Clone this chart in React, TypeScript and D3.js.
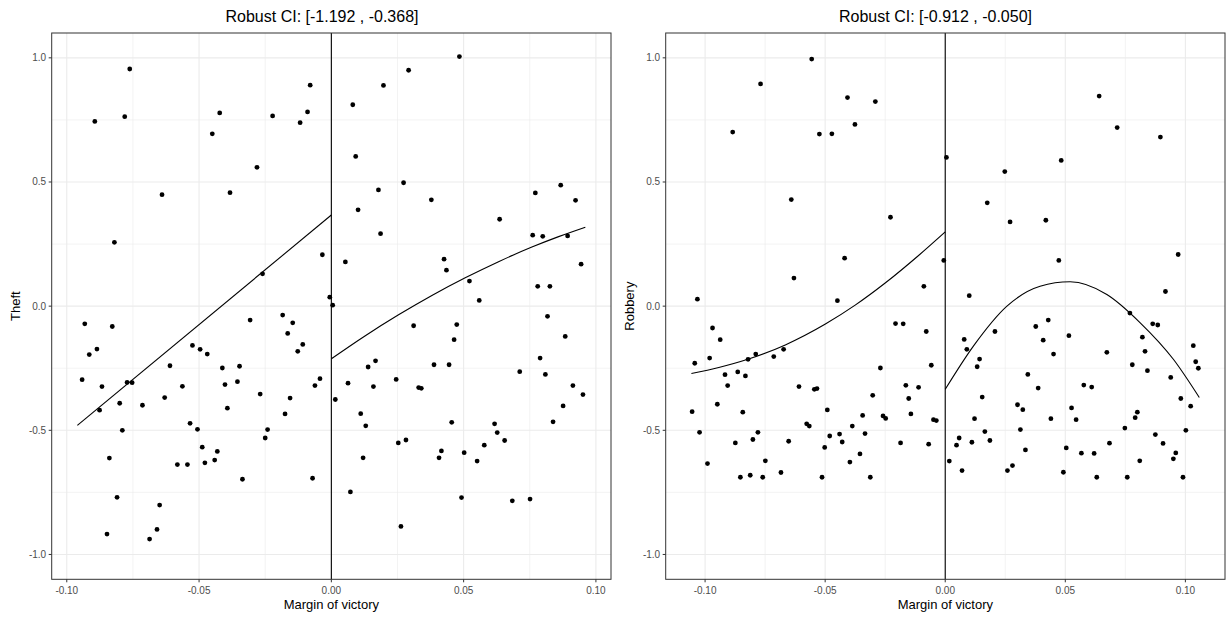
import React from "react";
import * as d3 from "d3";

// ---------- data ----------
const theftPoints: [number, number][] = [
  [-0.0894, 0.744], [-0.0762, 0.955], [-0.0781, 0.763], [-0.082, 0.257], [-0.064, 0.449],
  [-0.045, 0.694], [-0.0422, 0.778], [-0.0383, 0.457], [-0.0281, 0.559], [-0.026, 0.13],
  [-0.0222, 0.766], [-0.0118, 0.739], [-0.009, 0.782], [-0.008, 0.89], [-0.0034, 0.207],
  [-0.0006, 0.036],
  [0.0081, 0.811], [0.0197, 0.889], [0.0292, 0.95], [0.0484, 1.005], [0.0092, 0.603],
  [0.0178, 0.468], [0.0273, 0.497], [0.0378, 0.428], [0.0101, 0.388], [0.0186, 0.292],
  [0.0636, 0.35], [0.0771, 0.456], [0.0867, 0.487], [0.0923, 0.426], [0.0761, 0.286],
  [0.0799, 0.281], [0.0893, 0.283], [0.0944, 0.169], [0.0053, 0.178], [0.0426, 0.189],
  [0.0435, 0.145], [0.0522, 0.101], [0.0559, 0.023], [0.078, 0.08], [0.0826, 0.08],
  [0.0005, 0.004],
  [-0.0932, -0.071], [-0.0828, -0.082], [-0.0915, -0.195], [-0.0886, -0.173], [-0.0942, -0.296],
  [-0.0867, -0.324], [-0.0772, -0.307], [-0.0753, -0.308], [-0.0876, -0.419], [-0.08, -0.391],
  [-0.0714, -0.399], [-0.079, -0.5], [-0.0839, -0.612], [-0.081, -0.77], [-0.0848, -0.918],
  [-0.0687, -0.938], [-0.0659, -0.899], [-0.0649, -0.801], [-0.061, -0.24], [-0.063, -0.368],
  [-0.0563, -0.323], [-0.0525, -0.158], [-0.0496, -0.174], [-0.0469, -0.193], [-0.0582, -0.638],
  [-0.0544, -0.638], [-0.0534, -0.472], [-0.0506, -0.496], [-0.0488, -0.568], [-0.0478, -0.631],
  [-0.0441, -0.62], [-0.0431, -0.585], [-0.0412, -0.249], [-0.0402, -0.316], [-0.0393, -0.411],
  [-0.0355, -0.304], [-0.0347, -0.242], [-0.0336, -0.697], [-0.0307, -0.056], [-0.0269, -0.354],
  [-0.025, -0.531], [-0.0241, -0.497], [-0.0184, -0.036], [-0.0146, -0.067], [-0.0165, -0.11],
  [-0.0108, -0.154], [-0.0127, -0.182], [-0.0156, -0.37], [-0.0175, -0.434], [-0.0062, -0.32],
  [-0.0043, -0.292], [-0.0071, -0.693],
  [0.0817, -0.041], [0.0474, -0.074], [0.0311, -0.079], [0.0884, -0.122], [0.0464, -0.135],
  [0.0789, -0.209], [0.0167, -0.22], [0.0139, -0.245], [0.0388, -0.236], [0.0445, -0.236],
  [0.0712, -0.264], [0.0809, -0.275], [0.0063, -0.31], [0.0159, -0.324], [0.0245, -0.295],
  [0.033, -0.328], [0.034, -0.331], [0.0913, -0.32], [0.0951, -0.356], [0.0015, -0.376],
  [0.0876, -0.402], [0.0111, -0.433], [0.013, -0.482], [0.0455, -0.468], [0.0617, -0.474],
  [0.0627, -0.509], [0.0655, -0.541], [0.0838, -0.466], [0.0253, -0.551], [0.0282, -0.539],
  [0.0416, -0.583], [0.0407, -0.611], [0.0502, -0.59], [0.0578, -0.56], [0.0551, -0.624],
  [0.012, -0.611], [0.0072, -0.748], [0.0492, -0.771], [0.0684, -0.784], [0.0751, -0.777],
  [0.0263, -0.887],
];

const robberyPoints: [number, number][] = [
  [-0.0556, 0.995], [-0.0769, 0.895], [-0.0885, 0.701], [-0.0524, 0.693], [-0.0472, 0.694],
  [-0.0407, 0.84], [-0.0376, 0.732], [-0.0291, 0.824], [-0.0641, 0.429], [-0.0228, 0.358],
  [-0.0419, 0.193], [-0.063, 0.113], [-0.0089, 0.08], [-0.1032, 0.028], [-0.0449, 0.022],
  [0.0641, 0.846], [0.0716, 0.719], [0.0896, 0.681], [0.0005, 0.599], [0.0483, 0.587],
  [0.0248, 0.542], [0.0175, 0.416], [0.027, 0.339], [0.0419, 0.346], [0.0473, 0.184],
  [0.097, 0.208], [-0.0006, 0.184], [0.01, 0.042], [0.0917, 0.059],
  [-0.1043, -0.23], [-0.0969, -0.088], [-0.0937, -0.135], [-0.0981, -0.209], [-0.0917, -0.276],
  [-0.0906, -0.32], [-0.0949, -0.395], [-0.1054, -0.425], [-0.1023, -0.508], [-0.099, -0.634],
  [-0.0864, -0.265], [-0.0832, -0.281], [-0.0821, -0.214], [-0.0789, -0.193], [-0.0714, -0.203],
  [-0.0673, -0.174], [-0.0843, -0.427], [-0.0874, -0.551], [-0.0853, -0.689], [-0.0812, -0.681],
  [-0.0801, -0.537], [-0.078, -0.508], [-0.076, -0.689], [-0.0749, -0.623], [-0.0684, -0.67],
  [-0.0652, -0.544], [-0.0609, -0.324], [-0.0545, -0.335], [-0.0534, -0.332], [-0.0577, -0.474],
  [-0.0566, -0.483], [-0.0491, -0.418], [-0.0481, -0.523], [-0.0502, -0.569], [-0.0513, -0.689],
  [-0.044, -0.515], [-0.0429, -0.547], [-0.0387, -0.483], [-0.0397, -0.628], [-0.0355, -0.595],
  [-0.0344, -0.44], [-0.0334, -0.513], [-0.0312, -0.689], [-0.0302, -0.359], [-0.027, -0.249],
  [-0.0259, -0.442], [-0.0248, -0.452], [-0.0207, -0.07], [-0.0175, -0.071], [-0.0164, -0.319],
  [-0.0152, -0.372], [-0.0143, -0.434], [-0.0186, -0.551], [-0.0111, -0.327], [-0.0079, -0.102],
  [-0.0058, -0.238], [-0.0069, -0.556], [-0.0049, -0.457], [-0.0037, -0.461],
  [0.0079, -0.134], [0.009, -0.174], [0.0143, -0.213], [0.0133, -0.244], [0.0207, -0.102],
  [0.0154, -0.366], [0.0122, -0.453], [0.0165, -0.505], [0.0186, -0.541], [0.0111, -0.548],
  [0.0058, -0.531], [0.0047, -0.56], [0.0017, -0.624], [0.007, -0.662], [0.0259, -0.662],
  [0.028, -0.642], [0.0301, -0.397], [0.0323, -0.417], [0.0313, -0.497], [0.0334, -0.579],
  [0.0344, -0.275], [0.0387, -0.33], [0.0377, -0.082], [0.0429, -0.056], [0.0408, -0.137],
  [0.0451, -0.193], [0.044, -0.453], [0.0515, -0.119], [0.0526, -0.41], [0.0545, -0.457],
  [0.0504, -0.571], [0.0492, -0.669], [0.0567, -0.592], [0.0577, -0.318], [0.061, -0.326],
  [0.062, -0.593], [0.0631, -0.689], [0.0673, -0.186], [0.0684, -0.552], [0.0748, -0.491],
  [0.0758, -0.689], [0.0769, -0.028], [0.0779, -0.236], [0.0791, -0.449], [0.08, -0.427],
  [0.081, -0.623], [0.0821, -0.125], [0.0832, -0.182], [0.0842, -0.26], [0.0864, -0.071],
  [0.0885, -0.076], [0.0875, -0.517], [0.0907, -0.553], [0.0939, -0.287], [0.095, -0.615],
  [0.096, -0.591], [0.0981, -0.372], [0.099, -0.689], [0.1002, -0.5], [0.1022, -0.403],
  [0.1033, -0.159], [0.1043, -0.224], [0.1054, -0.25],
];

// fitted curves
const theftFitLeft: [number, number][] = [[-0.096, -0.48], [0, 0.367]];
const theftFitRight: [number, number][] = [
  [0, -0.212], [0.0127, -0.12], [0.0254, -0.035], [0.038, 0.043], [0.0506, 0.114],
  [0.0632, 0.179], [0.0758, 0.238], [0.0859, 0.28], [0.096, 0.318],
];
const robberyFitLeft: [number, number][] = [
  [-0.1057, -0.271], [-0.0943, -0.247], [-0.0819, -0.213], [-0.0666, -0.156], [-0.0499, -0.072],
  [-0.0375, 0.004], [-0.025, 0.093], [-0.0111, 0.204], [0, 0.299],
];
const robberyFitRight: [number, number][] = [
  [0, -0.335], [0.0118, -0.16], [0.0257, 0.0], [0.0395, 0.08], [0.052, 0.098],
  [0.0673, 0.047], [0.0812, -0.067], [0.095, -0.214], [0.1058, -0.368],
];

const yTicks = [-1.0, -0.5, 0.0, 0.5, 1.0];
const yTickLabels = ["-1.0", "-0.5", "0.0", "0.5", "1.0"];
const xTicks = [-0.1, -0.05, 0.0, 0.05, 0.1];
const xTickLabels = ["-0.10", "-0.05", "0.00", "0.05", "0.10"];
const titles = ["Robust CI: [-1.192 , -0.368]", "Robust CI: [-0.912 , -0.050]"];
const yLabels = ["Theft", "Robbery"];
const xLabel = "Margin of victory";

// ---------- layout ----------
const FONT = "'Liberation Sans', Arial, Helvetica, sans-serif";
const GRID = "#EBEBEB";
const DARK = "#333333";
const TXT = "#4D4D4D";

type PanelProps = {
  left: number; right: number; top: number; bottom: number;
  xDomain: [number, number];
  points: [number, number][];
  fits: [number, number][][];
  title: string; titleX: number;
  yLabel: string; yLabelX: number;
};

function Panel(p: PanelProps) {
  const x = d3.scaleLinear().domain(p.xDomain).range([p.left, p.right]);
  const y = d3.scaleLinear().domain([-1.1, 1.1]).range([p.bottom, p.top]);
  const xMinor = xTicks.slice(0, -1).map((t, i) => (t + xTicks[i + 1]) / 2);
  const yMinor = yTicks.slice(0, -1).map((t, i) => (t + yTicks[i + 1]) / 2);
  const line = d3.line<[number, number]>().x((d) => x(d[0])).y((d) => y(d[1])).curve(d3.curveMonotoneX);
  const cx = (p.left + p.right) / 2;
  const cy = (p.top + p.bottom) / 2;
  return (
    <g>
      <rect x={p.left} y={p.top} width={p.right - p.left} height={p.bottom - p.top} fill="#fff" />
      {yMinor.map((t) => (
        <line key={"ym" + t} x1={p.left} x2={p.right} y1={y(t)} y2={y(t)} stroke={GRID} strokeWidth={0.6} />
      ))}
      {xMinor.map((t) => (
        <line key={"xm" + t} x1={x(t)} x2={x(t)} y1={p.top} y2={p.bottom} stroke={GRID} strokeWidth={0.6} />
      ))}
      {yTicks.map((t) => (
        <line key={"yM" + t} x1={p.left} x2={p.right} y1={y(t)} y2={y(t)} stroke={GRID} strokeWidth={1.1} />
      ))}
      {xTicks.map((t) => (
        <line key={"xM" + t} x1={x(t)} x2={x(t)} y1={p.top} y2={p.bottom} stroke={GRID} strokeWidth={1.1} />
      ))}
      {p.points.map((d, i) => (
        <circle key={i} cx={x(d[0])} cy={y(d[1])} r={2.4} fill="#000" />
      ))}
      {p.fits.map((f, i) => (
        <path key={"f" + i} d={line(f) || ""} fill="none" stroke="#000" strokeWidth={1.1} />
      ))}
      <line x1={x(0)} x2={x(0)} y1={p.top} y2={p.bottom} stroke="#000" strokeWidth={1.1} />
      <rect x={p.left} y={p.top} width={p.right - p.left} height={p.bottom - p.top} fill="none" stroke={DARK} strokeWidth={1} />
      {yTicks.map((t, i) => (
        <g key={"yt" + t}>
          <line x1={p.left - 3} x2={p.left} y1={y(t)} y2={y(t)} stroke={DARK} strokeWidth={1} />
          <text x={p.left - 5.5} y={y(t)} dy="0.35em" textAnchor="end" fontSize={10} fill={TXT} fontFamily={FONT}>
            {yTickLabels[i]}
          </text>
        </g>
      ))}
      {xTicks.map((t, i) => (
        <g key={"xt" + t}>
          <line x1={x(t)} x2={x(t)} y1={p.bottom} y2={p.bottom + 3} stroke={DARK} strokeWidth={1} />
          <text x={x(t)} y={p.bottom + 14.5} textAnchor="middle" fontSize={10} fill={TXT} fontFamily={FONT}>
            {xTickLabels[i]}
          </text>
        </g>
      ))}
      <text x={cx} y={609} textAnchor="middle" fontSize={13} fill="#000" fontFamily={FONT}>
        {xLabel}
      </text>
      <text
        transform={`translate(${p.yLabelX},${cy}) rotate(-90)`}
        textAnchor="middle"
        fontSize={13}
        fill="#000"
        fontFamily={FONT}
      >
        {p.yLabel}
      </text>
      <text x={p.titleX} y={22} textAnchor="middle" fontSize={16} fill="#000" fontFamily={FONT}>
        {p.title}
      </text>
    </g>
  );
}

export default function App() {
  return (
    <svg
      width={1231}
      height={617}
      style={{ position: "absolute", left: 0, top: 0, background: "#fff" }}
    >
      <rect x={0} y={0} width={1231} height={617} fill="#fff" />
      <Panel
        left={51.7} right={611} top={33} bottom={579.3}
        xDomain={[-0.1057, 0.1057]}
        points={theftPoints}
        fits={[theftFitLeft, theftFitRight]}
        title={titles[0]} titleX={322}
        yLabel={yLabels[0]} yLabelX={19.5}
      />
      <Panel
        left={665.7} right={1225} top={33} bottom={579.3}
        xDomain={[-0.1164, 0.1165]}
        points={robberyPoints}
        fits={[robberyFitLeft, robberyFitRight]}
        title={titles[1]} titleX={935.5}
        yLabel={yLabels[1]} yLabelX={634}
      />
    </svg>
  );
}
